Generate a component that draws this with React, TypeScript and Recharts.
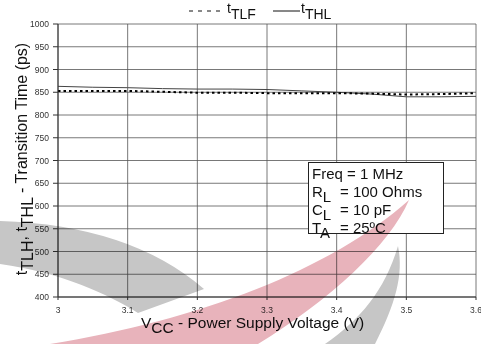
import React from 'react';
import { LineChart, Line, XAxis, YAxis, CartesianGrid } from 'recharts';

// Supply voltage sweep (V) and measured transition times (ps)
const voltage = [3.0, 3.05, 3.1, 3.15, 3.2, 3.25, 3.3, 3.35, 3.4, 3.45, 3.5, 3.55, 3.6];
const tTLF = [853, 853, 853, 851, 849, 849, 848, 848, 848, 847, 845, 846, 848];
const tTHL = [863, 861, 860, 858, 857, 857, 856, 853, 850, 846, 840, 840, 841];

const xTicks = [3, 3.1, 3.2, 3.3, 3.4, 3.5, 3.6];
const yTicks = [400, 450, 500, 550, 600, 650, 700, 750, 800, 850, 900, 950, 1000];

const W = 481;
const H = 344;
const FONT = '"Liberation Sans", Arial, sans-serif';

const chartData = voltage.map((v, i) => ({ v, tlf: tTLF[i], thl: tTHL[i] }));

const tickStyle = { fontSize: 8.5, fill: '#333', fontFamily: FONT };

const App: React.FC = () => {
  return (
    <div style={{ position: 'absolute', left: 0, top: 0, width: W, height: H, background: '#fff' }}>
      <LineChart
        width={W}
        height={H}
        data={chartData}
        margin={{ top: 24, right: 5, left: 0, bottom: 0 }}
      >
        <CartesianGrid stroke="#555" strokeWidth={0.8} />
        <XAxis
          dataKey="v"
          type="number"
          domain={[3, 3.6]}
          ticks={xTicks}
          interval={0}
          tickFormatter={(v: number) => String(Number(v.toFixed(1)))}
          tick={tickStyle}
          tickSize={3}
          tickMargin={7}
          height={47}
          stroke="#333"
        />
        <YAxis
          type="number"
          domain={[400, 1000]}
          ticks={yTicks}
          interval={0}
          tick={tickStyle}
          tickSize={5}
          tickMargin={4}
          width={58}
          stroke="#333"
        />
        <Line
          dataKey="thl"
          stroke="#444"
          strokeWidth={1}
          dot={false}
          isAnimationActive={false}
        />
        <Line
          dataKey="tlf"
          stroke="#000"
          strokeWidth={2}
          strokeDasharray="2.5 3"
          dot={false}
          isAnimationActive={false}
        />
      </LineChart>

      {/* legend, axis titles and test-condition box */}
      <svg
        width={W}
        height={H}
        style={{ position: 'absolute', left: 0, top: 0, pointerEvents: 'none' }}
        fontFamily={FONT}
        fill="#111"
      >
        <line x1={189} y1={11} x2={224} y2={11} stroke="#111" strokeWidth={1} strokeDasharray="4 5" />
        <text x={227} y={13} fontSize={14}>
          t<tspan dy={6}>TLF</tspan>
        </text>
        <line x1={273} y1={11} x2={300} y2={11} stroke="#111" strokeWidth={1} />
        <text x={301} y={13} fontSize={14}>
          t<tspan dy={6}>THL</tspan>
        </text>

        <text x={141} y={328} fontSize={15.5}>
          V<tspan dy={5}>CC</tspan>
          <tspan dy={-5}> - Power Supply Voltage (V)</tspan>
        </text>

        <text transform="translate(27,159) rotate(-90)" textAnchor="middle" fontSize={16}>
          t<tspan dy={6}>TLH</tspan>
          <tspan dy={-6}>, t</tspan>
          <tspan dy={6}>THL</tspan>
          <tspan dy={-6}> - Transition Time (ps)</tspan>
        </text>

        <rect x={308.5} y={162.5} width={135} height={71} fill="#fff" stroke="#222" strokeWidth={1} />
        <g fontSize={15}>
          <text x={312} y={179}>Freq = 1 MHz</text>
          <text x={312} y={197}>
            R<tspan dy={5}>L</tspan>
          </text>
          <text x={340} y={197}>= 100 Ohms</text>
          <text x={312} y={215}>
            C<tspan dy={5}>L</tspan>
          </text>
          <text x={340} y={215}>= 10 pF</text>
          <text x={312} y={233}>
            T<tspan dy={5}>A</tspan>
          </text>
          <text x={340} y={233}>= 25ºC</text>
        </g>
      </svg>

      {/* background logo swooshes, multiplied over the plot */}
      <svg
        width={W}
        height={H}
        style={{ position: 'absolute', left: 0, top: 0, pointerEvents: 'none', mixBlendMode: 'multiply' }}
      >
        <path d="M0,221 Q130,225 204,289 L138,313 C110,295 60,272 0,264 Z" fill="#c6c6c6" />
        <path d="M50,344 C200,320 330,270 409,200 C390,245 330,300 258,344 Z" fill="#e8b3bb" />
        <path d="M398,246 C385,290 360,320 325,344 L375,344 C395,305 404,275 398,246 Z" fill="#c6c6c6" />
      </svg>
    </div>
  );
};

export default App;
